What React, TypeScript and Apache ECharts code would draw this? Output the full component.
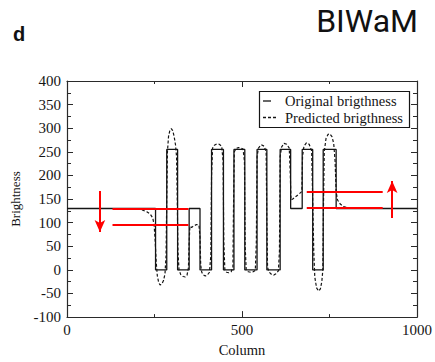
import React, { useEffect, useRef } from "react";
import * as echarts from "echarts";

// Original brightness (step signal): column / brightness pairs
const originalColumn = [0, 253, 253, 285, 285, 316, 316, 349, 349, 380, 380, 413, 413, 447, 447, 477, 477, 508, 508, 543, 543, 571, 571, 609, 609, 639, 639, 672, 672, 702, 702, 732, 732, 769, 769, 1000];
const originalBrightness = [130, 130, 0, 0, 255, 255, 0, 0, 130, 130, 0, 0, 255, 255, 0, 0, 255, 255, 0, 0, 255, 255, 0, 0, 255, 255, 130, 130, 255, 255, 0, 0, 255, 255, 130, 130];

// Predicted brightness (dashed)
const predictedColumn = [0, 150, 200, 215, 228, 238, 245, 249, 252, 255, 258, 262, 266, 271, 276, 280, 283, 285, 287, 290, 294, 298, 302, 306, 310, 313, 315, 317, 320, 325, 332, 338, 343, 347, 349, 351, 356, 362, 370, 377, 380, 382, 385, 390, 395, 401, 407, 411, 413, 416, 421, 428, 435, 442, 446, 448, 451, 456, 462, 469, 474, 476, 478, 483, 490, 497, 503, 507, 509, 512, 518, 525, 532, 538, 541, 543, 547, 555, 563, 569, 571, 573, 578, 585, 591, 597, 604, 607, 609, 613, 620, 628, 635, 638, 640, 645, 655, 665, 671, 673, 677, 684, 692, 699, 702, 705, 708, 713, 719, 724, 728, 731, 733, 735, 740, 746, 751, 757, 762, 766, 769, 773, 780, 790, 805, 820, 1000];
const predictedBrightness = [130, 130, 129, 127, 123, 118, 110, 95, 60, 15, -12, -27, -32, -30, -22, -8, 30, 150, 250, 282, 296, 299, 295, 283, 265, 240, 150, 40, 0, -10, -14, -15, -11, 5, 60, 92, 90, 93, 96, 95, 70, 10, -5, -11, -13, -11, -5, 30, 200, 258, 264, 267, 266, 262, 230, 60, 0, -5, -6, -4, 5, 150, 250, 257, 259, 258, 256, 230, 50, 0, -4, -5, -4, -1, 60, 240, 258, 265, 262, 250, 100, 5, -5, -10, -11, -8, -2, 40, 240, 260, 268, 266, 258, 200, 148, 150, 156, 162, 166, 240, 262, 269, 266, 252, 150, 40, -15, -38, -45, -40, -25, 0, 150, 250, 278, 287, 288, 282, 268, 230, 165, 148, 140, 134, 131, 130, 130];

// Red annotation lines (column range, brightness levels)
const leftLineColumns = [130, 347];
const leftLevels = [130, 96];
const rightLineColumns = [685, 902];
const rightLevels = [165, 132];
// Arrows: [column, from, to]
const downArrow = [94, 167, 80];
const upArrow = [929, 110, 188];

const seriesNames = ["Original brigthness", "Predicted brigthness"];
const xLabelValues = [0, 500, 1000];

const zip = (xs: number[], ys: number[]) => xs.map((x, i) => [x, ys[i]]);

const serif = "Liberation Serif";
const axisColor = "#2a2a2a";
const ink = "#151515";

export default function App() {
  const ref = useRef<HTMLDivElement>(null);
  useEffect(() => {
    if (!ref.current) return;
    const chart = echarts.init(ref.current, undefined, { renderer: "svg" });
    const baseX = {
      type: "value" as const,
      min: 0,
      max: 1000,
      interval: 500,
      axisLine: { show: true, onZero: false, lineStyle: { color: axisColor, width: 1.2 } },
      axisTick: { show: true, inside: true, length: 6, lineStyle: { color: axisColor } },
      minorTick: { show: true, splitNumber: 2, length: 3, lineStyle: { color: axisColor } },
      splitLine: { show: false },
      minorSplitLine: { show: false },
    };
    const baseY = {
      type: "value" as const,
      min: -100,
      max: 400,
      interval: 50,
      axisLine: { show: true, onZero: false, lineStyle: { color: axisColor, width: 1.2 } },
      axisTick: { show: true, inside: true, length: 6, lineStyle: { color: axisColor } },
      minorTick: { show: true, splitNumber: 2, length: 4, lineStyle: { color: axisColor } },
      splitLine: { show: false },
      minorSplitLine: { show: false },
    };
    const redLine = { color: "#ff0000", width: 2, type: "solid" as const };
    const legendFont = `14.5px "${serif}"`;
    chart.setOption({
      animation: false,
      grid: { left: 67, right: 18, top: 81, bottom: 36, containLabel: false },
      xAxis: [
        {
          ...baseX,
          position: "bottom",
          name: "Column",
          nameLocation: "middle",
          nameGap: 24,
          nameTextStyle: { fontFamily: serif, fontSize: 14.5, color: ink },
          axisLabel: {
            fontFamily: serif,
            fontSize: 15,
            color: ink,
            margin: 5,
            formatter: (v: number) => (xLabelValues.includes(v) ? String(v) : ""),
          },
        },
        { ...baseX, position: "top", axisLabel: { show: false } },
      ],
      yAxis: [
        {
          ...baseY,
          position: "left",
          name: "Brightness",
          nameLocation: "middle",
          nameGap: 45,
          nameTextStyle: { fontFamily: serif, fontSize: 13, color: ink },
          axisLabel: { fontFamily: serif, fontSize: 15, color: ink, margin: 6 },
        },
        { ...baseY, position: "right", axisLabel: { show: false } },
      ],
      series: [
        {
          name: seriesNames[0],
          type: "line",
          symbol: "none",
          xAxisIndex: 0,
          yAxisIndex: 0,
          data: zip(originalColumn, originalBrightness),
          lineStyle: { color: ink, width: 1.3, type: "solid" },
          z: 3,
        },
        {
          name: seriesNames[1],
          type: "line",
          symbol: "none",
          xAxisIndex: 0,
          yAxisIndex: 0,
          data: zip(predictedColumn, predictedBrightness),
          lineStyle: { color: ink, width: 1.2, type: [3, 2] },
          z: 4,
        },
        {
          name: "annotations",
          type: "line",
          symbol: "none",
          xAxisIndex: 0,
          yAxisIndex: 0,
          data: [],
          z: 5,
          markLine: {
            silent: true,
            symbol: ["none", "none"],
            label: { show: false },
            lineStyle: redLine,
            data: [
              ...leftLevels.map((y) => [
                { coord: [leftLineColumns[0], y], symbol: "none" },
                { coord: [leftLineColumns[1], y], symbol: "none" },
              ]),
              ...rightLevels.map((y) => [
                { coord: [rightLineColumns[0], y], symbol: "none" },
                { coord: [rightLineColumns[1], y], symbol: "none" },
              ]),
              [
                { coord: [downArrow[0], downArrow[1]], symbol: "none" },
                { coord: [downArrow[0], downArrow[2]], symbol: "arrow", symbolSize: [8, 12] },
              ],
              [
                { coord: [upArrow[0], upArrow[1]], symbol: "none" },
                { coord: [upArrow[0], upArrow[2]], symbol: "arrow", symbolSize: [8, 12] },
              ],
            ],
          },
        },
      ],
      graphic: [
        {
          type: "text",
          left: 13,
          top: 24,
          style: { text: "d", font: "bold 20px 'Liberation Sans', Arial, sans-serif", fill: "#111" },
        },
        {
          type: "text",
          right: 17,
          top: 5,
          style: { text: "BIWaM", font: "32px Roboto, sans-serif", fill: "#111" },
        },
        // legend box
        {
          type: "rect",
          shape: { x: 259.5, y: 91.5, width: 150, height: 36 },
          style: { fill: "#fff", stroke: ink, lineWidth: 1.2 },
          z: 10,
        },
        {
          type: "line",
          shape: { x1: 263, y1: 101, x2: 271, y2: 101 },
          style: { stroke: ink, lineWidth: 1.3 },
          z: 11,
        },
        {
          type: "line",
          shape: { x1: 263, y1: 117.5, x2: 277, y2: 117.5 },
          style: { stroke: ink, lineWidth: 1.3, lineDash: [3, 2] },
          z: 11,
        },
        {
          type: "text",
          x: 285,
          y: 101,
          style: { text: seriesNames[0], font: legendFont, fill: ink, verticalAlign: "middle" },
          z: 11,
        },
        {
          type: "text",
          x: 285,
          y: 117.5,
          style: { text: seriesNames[1], font: legendFont, fill: ink, verticalAlign: "middle" },
          z: 11,
        },
      ],
    });
    return () => chart.dispose();
  }, []);
  return (
    <div
      ref={ref}
      style={{ position: "absolute", left: 0, top: 0, width: 435, height: 362, background: "#fff" }}
    />
  );
}
